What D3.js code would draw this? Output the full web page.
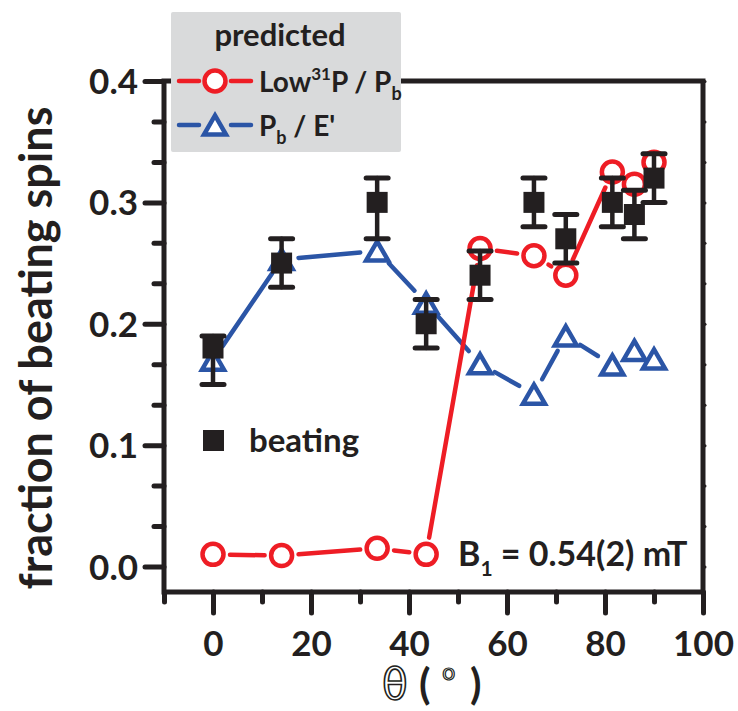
<!DOCTYPE html>
<html>
<head>
<meta charset="utf-8">
<script src="https://cdn.jsdelivr.net/npm/d3@7"></script>
<style>
  html, body { margin: 0; padding: 0; background: #fff; }
  svg { display: block; font-family: Lato, "Open Sans", sans-serif; font-weight: 700; }
  .axis path.domain { display: none; }
  .axis line { stroke: #231f20; stroke-width: 5; stroke-linecap: round; }
  .axis text { fill: #231f20; font-family: Lato, sans-serif; font-weight: 700; font-size: 35px; }
</style>
</head>
<body>
<svg id="chart" width="738" height="711"></svg>
<script>
// Rotation angle of B0 (degrees)
const theta = [0, 14, 33.5, 43.5, 54.5, 65.5, 72, 81.5, 86, 90];

// Measured fraction of beating spins with error range
const beating   = [0.18, 0.25, 0.30, 0.20, 0.24, 0.30, 0.27, 0.30, 0.29, 0.32];
const beatingLo = [0.15, 0.23, 0.27, 0.18, 0.22, 0.28, 0.25, 0.28, 0.27, 0.30];
const beatingHi = [0.19, 0.27, 0.32, 0.22, 0.26, 0.32, 0.29, 0.32, 0.31, 0.34];

// Predicted fractions
const predLowP = [0.010, 0.009, 0.015, 0.010, 0.262, 0.256, 0.240, 0.325, 0.315, 0.333];
const predPbE  = [0.170, 0.253, 0.260, 0.217, 0.167, 0.142, 0.190, 0.166, 0.178, 0.171];

const yMajor = [0.0, 0.1, 0.2, 0.3, 0.4];
const xMajor = [0, 20, 40, 60, 80, 100];
const xMinor = [-10, 10, 30, 50, 70, 90];

const RED = "#ee1d25", BLUE = "#2b55a6", INK = "#231f20";

const svg = d3.select("#chart");
const x = d3.scaleLinear().domain([-10, 100]).range([164, 703]);
const y = d3.scaleLinear().domain([-0.021, 0.4]).range([592, 81]);

const yMinor = d3.range(1, 12).map(i => i / 30).filter(v => Math.abs(v * 10 - Math.round(v * 10)) > 1e-6);
const yAll = d3.range(0, 13).map(i => i / 30);

// axes
svg.append("g").attr("class", "axis").attr("transform", `translate(${x.range()[0]},0)`)
  .call(d3.axisLeft(y).tickValues(yMinor).tickSize(10).tickFormat(""));
svg.append("g").attr("class", "axis").attr("transform", `translate(${x.range()[0]},0)`)
  .call(d3.axisLeft(y).tickValues(yMajor).tickSize(19).tickPadding(7).tickFormat(d3.format(".1f")))
  .selectAll("text").attr("dy", "0.36em");
svg.append("g").attr("class", "axis").attr("transform", `translate(${x.range()[1]},0)`)
  .call(d3.axisRight(y).tickValues(yAll).tickSize(2).tickFormat(""))
  .selectAll("line").style("stroke-width", 3);
svg.append("g").attr("class", "axis").attr("transform", `translate(0,${y.range()[0]})`)
  .call(d3.axisBottom(x).tickValues(xMinor).tickSize(10).tickFormat(""));
svg.append("g").attr("class", "axis").attr("transform", `translate(0,${y.range()[0]})`)
  .call(d3.axisBottom(x).tickValues(xMajor).tickSize(21).tickPadding(18));

// plot frame
svg.append("rect")
  .attr("x", x.range()[0]).attr("y", y.range()[1])
  .attr("width", x.range()[1] - x.range()[0]).attr("height", y.range()[0] - y.range()[1])
  .attr("fill", "none").attr("stroke", INK).attr("stroke-width", 5);

// connecting lines that stop short of each marker
function gappedLine(vals, color, gap) {
  const pts = theta.map((t, i) => [x(t), y(vals[i])]);
  const segs = [];
  for (let i = 0; i < pts.length - 1; i++) {
    const [x0, y0] = pts[i], [x1, y1] = pts[i + 1];
    const d = Math.hypot(x1 - x0, y1 - y0);
    if (d <= 2 * gap + 1) continue;
    const ux = (x1 - x0) / d, uy = (y1 - y0) / d;
    segs.push([[x0 + ux * gap, y0 + uy * gap], [x1 - ux * gap, y1 - uy * gap]]);
  }
  svg.append("g").selectAll("line").data(segs).join("line")
    .attr("x1", s => s[0][0]).attr("y1", s => s[0][1])
    .attr("x2", s => s[1][0]).attr("y2", s => s[1][1])
    .attr("stroke", color).attr("stroke-width", 4.5).attr("stroke-linecap", "round");
}

const triPath = (s) => {
  const h = s * Math.sqrt(3) / 2;
  return `M0,${-h / 2}L${s / 2},${h / 2}L${-s / 2},${h / 2}Z`;
};

// P_b / E' prediction
gappedLine(predPbE, BLUE, 17);
svg.append("g").selectAll("path").data(theta).join("path")
  .attr("d", triPath(22))
  .attr("transform", (t, i) => `translate(${x(t)},${y(predPbE[i])})`)
  .attr("fill", "#fff").attr("stroke", BLUE).attr("stroke-width", 4.5).attr("stroke-linejoin", "miter");

// Low 31P / P_b prediction
gappedLine(predLowP, RED, 17);
svg.append("g").selectAll("circle").data(theta).join("circle")
  .attr("cx", t => x(t)).attr("cy", (t, i) => y(predLowP[i])).attr("r", 10.5)
  .attr("fill", "#fff").attr("stroke", RED).attr("stroke-width", 4.5);

// measured beating fraction with error bars
const eb = svg.append("g").attr("stroke", INK).attr("stroke-linecap", "round");
theta.forEach((t, i) => {
  const cx = x(t);
  eb.append("line").attr("x1", cx).attr("x2", cx).attr("y1", y(beatingLo[i])).attr("y2", y(beatingHi[i])).attr("stroke-width", 4.5);
  [beatingLo[i], beatingHi[i]].forEach(v => {
    eb.append("line").attr("x1", cx - 11).attr("x2", cx + 11).attr("y1", y(v)).attr("y2", y(v)).attr("stroke-width", 5);
  });
});
svg.append("g").selectAll("rect").data(theta).join("rect")
  .attr("x", t => x(t) - 10.5).attr("y", (t, i) => y(beating[i]) - 10.5)
  .attr("width", 21).attr("height", 21).attr("fill", INK);

// in-plot legend for measured data
svg.append("rect").attr("x", 203).attr("y", 430).attr("width", 21).attr("height", 21).attr("fill", INK);
svg.append("text").attr("x", 249).attr("y", 452).attr("font-size", 33).attr("fill", INK).text("beating");

// field annotation
const b1 = svg.append("text").attr("x", 458).attr("y", 566).attr("font-size", 34).attr("fill", INK);
b1.append("tspan").text("B");
b1.append("tspan").attr("font-size", 21).attr("dy", 10).text("1");
b1.append("tspan").attr("dy", -10).text(" = 0.54(2) mT");

// legend for predictions
const lg = svg.append("g");
lg.append("rect").attr("x", 171).attr("y", 12).attr("width", 230).attr("height", 140).attr("rx", 2)
  .attr("fill", "#d9dadb");
lg.append("text").attr("x", 280).attr("y", 46).attr("text-anchor", "middle").attr("font-size", 31)
  .attr("fill", INK).text("predicted");
const legendRows = [
  { yy: 81, color: RED, shape: "circle" },
  { yy: 125, color: BLUE, shape: "triangle" }
];
legendRows.forEach(r => {
  lg.append("line").attr("x1", 179).attr("x2", 199).attr("y1", r.yy).attr("y2", r.yy)
    .attr("stroke", r.color).attr("stroke-width", 4.5).attr("stroke-linecap", "round");
  lg.append("line").attr("x1", 231).attr("x2", 251).attr("y1", r.yy).attr("y2", r.yy)
    .attr("stroke", r.color).attr("stroke-width", 4.5).attr("stroke-linecap", "round");
  if (r.shape === "circle") {
    lg.append("circle").attr("cx", 215).attr("cy", r.yy).attr("r", 10.5)
      .attr("fill", "#fff").attr("stroke", r.color).attr("stroke-width", 4.5);
  } else {
    lg.append("path").attr("d", triPath(22)).attr("transform", `translate(215,${r.yy})`)
      .attr("fill", "#fff").attr("stroke", r.color).attr("stroke-width", 4.5);
  }
});
const t1 = lg.append("text").attr("x", 259).attr("y", 92).attr("font-size", 28).attr("fill", INK);
t1.append("tspan").text("Low");
t1.append("tspan").attr("font-size", 17).attr("dy", -12).text("31");
t1.append("tspan").attr("dy", 12).text("P / P");
t1.append("tspan").attr("font-size", 18).attr("dy", 8).text("b");
const t2 = lg.append("text").attr("x", 259).attr("y", 136).attr("font-size", 28).attr("fill", INK);
t2.append("tspan").text("P");
t2.append("tspan").attr("font-size", 18).attr("dy", 8).text("b");
t2.append("tspan").attr("dy", -8).text(" / E'");

// axis titles
svg.append("text")
  .attr("transform", "translate(52,348) rotate(-90)")
  .attr("text-anchor", "middle").attr("font-size", 45).attr("fill", INK)
  .text("fraction of beating spins");

const xt = svg.append("g").attr("transform", "translate(440,699)");
xt.append("text").attr("x", -58).attr("font-family", "DejaVu Sans").attr("font-weight", 400)
  .attr("font-size", 42).attr("fill", "#fff").attr("stroke", INK).attr("stroke-width", 1.6)
  .text("θ");
xt.append("text").attr("x", -21).attr("font-size", 42).attr("fill", INK).text("(");
xt.append("text").attr("x", 2).attr("y", -19).attr("font-family", "DejaVu Sans").attr("font-weight", 400)
  .attr("font-size", 22).attr("fill", "#fff").attr("stroke", INK).attr("stroke-width", 1.2).text("o");
xt.append("text").attr("x", 30).attr("font-size", 42).attr("fill", INK).text(")");
</script>
</body>
</html>
